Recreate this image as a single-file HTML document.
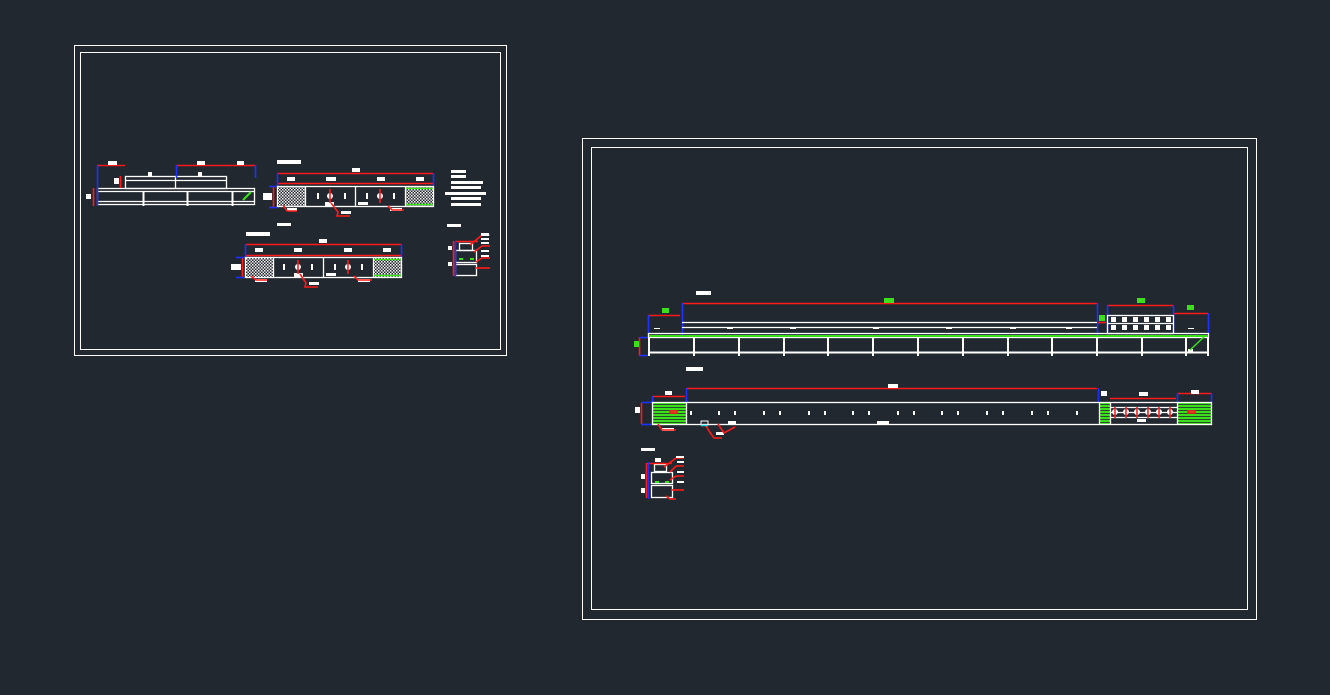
<!DOCTYPE html>
<html><head><meta charset="utf-8"><style>
html,body{margin:0;padding:0;background:#212830;width:1330px;height:695px;overflow:hidden}
svg{display:block}
.r{stroke:#ff1a1a;stroke-width:1.6}
.b{stroke:#2030ff;stroke-width:1.6}
</style></head><body>
<svg width="1330" height="695" viewBox="0 0 1330 695" xmlns="http://www.w3.org/2000/svg">
<defs>
<pattern id="hatch" width="3" height="3" patternUnits="userSpaceOnUse">
<rect width="3" height="3" fill="#212830"/><rect width="1.5" height="1.5" fill="#fff"/><rect x="1.5" y="1.5" width="1.5" height="1.5" fill="#ddd"/></pattern>
<pattern id="gstripe" width="4" height="3" patternUnits="userSpaceOnUse">
<rect width="4" height="3" fill="#3be01a"/><rect y="2.2" width="4" height="0.8" fill="#212830"/></pattern>
</defs>
<g fill="none" stroke="#fff" stroke-width="1">
<rect x="74.5" y="45.5" width="432" height="310"/>
<rect x="80.5" y="52.5" width="420" height="297"/>
<rect x="582.5" y="138.5" width="674" height="481"/>
<rect x="591.5" y="147.5" width="656" height="462"/>
</g>

<!-- LEFT: elevation -->
<g stroke="#fff" stroke-width="1.3" fill="none">
<rect x="97.5" y="188.5" width="157" height="16"/>
<line x1="97" y1="191.5" x2="255" y2="191.5"/>
<line x1="97" y1="201.5" x2="255" y2="201.5"/>
<rect x="125.5" y="176.5" width="101" height="12"/>
<line x1="125" y1="180.5" x2="227" y2="180.5"/>
<line x1="175.5" y1="176" x2="175.5" y2="188"/>
<line x1="143.5" y1="192" x2="143.5" y2="206" stroke-width="2"/>
<line x1="187.5" y1="192" x2="187.5" y2="206" stroke-width="2"/>
<line x1="232.5" y1="192" x2="232.5" y2="206" stroke-width="2"/>
</g>
<g class="r">
<line x1="97" y1="165.5" x2="125" y2="165.5"/>
<line x1="176" y1="165.5" x2="255" y2="165.5"/>
<line x1="93.5" y1="188" x2="93.5" y2="206"/>
<line x1="120.5" y1="176" x2="120.5" y2="188"/>
</g>
<g class="b"><line x1="97.5" y1="165" x2="97.5" y2="206"/><line x1="255.5" y1="165" x2="255.5" y2="178"/><line x1="176.5" y1="165" x2="176.5" y2="178"/></g>
<g fill="#fff"><rect x="108" y="161" width="9" height="4"/><rect x="197" y="161" width="8" height="4"/><rect x="237" y="161" width="7" height="4"/><rect x="86" y="194" width="5" height="5"/><rect x="114" y="178" width="5" height="6"/><rect x="148" y="172" width="4" height="5"/><rect x="198" y="172" width="4" height="5"/></g>
<line x1="243" y1="200" x2="251" y2="192" stroke="#3be01a" stroke-width="2"/>

<!-- LEFT: top plan -->
<rect x="277" y="160" width="24" height="4" fill="#fff"/>
<rect x="352" y="168" width="8" height="4" fill="#fff"/>
<g class="r"><line x1="277" y1="173.5" x2="433" y2="173.5"/><line x1="277" y1="183.5" x2="433" y2="183.5"/><line x1="273.5" y1="186" x2="273.5" y2="207"/></g>
<g class="b"><line x1="277.5" y1="173" x2="277.5" y2="186"/><line x1="433.5" y1="173" x2="433.5" y2="186"/><line x1="269" y1="186.5" x2="277" y2="186.5"/><line x1="269" y1="207.5" x2="277" y2="207.5"/></g>
<g fill="#fff"><rect x="287" y="177" width="8" height="4"/><rect x="326" y="177" width="10" height="4"/><rect x="377" y="177" width="8" height="4"/><rect x="416" y="177" width="8" height="4"/><rect x="263" y="193" width="9" height="7"/></g>
<rect x="277.5" y="186.5" width="28" height="20" fill="url(#hatch)"/>
<rect x="405.5" y="186.5" width="28" height="20" fill="url(#hatch)"/>
<g stroke="#3be01a" stroke-width="1.5"><line x1="405" y1="188.5" x2="433" y2="188.5"/><line x1="405" y1="204.5" x2="433" y2="204.5"/></g>
<g fill="none" stroke="#fff" stroke-width="1.3"><rect x="277.5" y="186.5" width="156" height="20"/><line x1="305.5" y1="186" x2="305.5" y2="207"/><line x1="355.5" y1="186" x2="355.5" y2="207"/><line x1="405.5" y1="186" x2="405.5" y2="207"/></g>
<g fill="#fff"><circle cx="330" cy="196" r="3"/><circle cx="380" cy="196" r="3"/><rect x="317" y="193" width="2" height="6"/><rect x="344" y="193" width="2" height="6"/><rect x="366" y="193" width="2" height="6"/><rect x="393" y="193" width="2" height="6"/><rect x="325" y="202" width="9" height="4"/><rect x="358" y="202" width="10" height="3"/><rect x="287" y="208" width="10" height="3"/><rect x="341" y="211" width="10" height="3"/><rect x="390" y="208" width="12" height="3"/></g>
<g class="r" fill="none"><line x1="330" y1="189" x2="330" y2="203"/><line x1="380" y1="189" x2="380" y2="203"/><polyline points="283,205 287,211 297,211"/><polyline points="331,203 338,212 337,216 350,216"/><polyline points="388,206 392,210 404,210"/></g>
<g fill="#fff"><rect x="451" y="170" width="15" height="3"/><rect x="451" y="175" width="15" height="3"/><rect x="451" y="181" width="32" height="3"/><rect x="451" y="186" width="30" height="3"/><rect x="445" y="192" width="41" height="3"/><rect x="451" y="197" width="30" height="3"/><rect x="451" y="203" width="30" height="3"/><rect x="277" y="223" width="14" height="3"/></g>

<!-- LEFT: lower plan -->
<rect x="246" y="232" width="24" height="4" fill="#fff"/>
<rect x="319" y="239" width="8" height="4" fill="#fff"/>
<g class="r"><line x1="246" y1="244.5" x2="402" y2="244.5"/><line x1="246" y1="255.5" x2="402" y2="255.5"/><line x1="242.5" y1="257" x2="242.5" y2="277"/></g>
<g class="b"><line x1="245.5" y1="244" x2="245.5" y2="257"/><line x1="401.5" y1="244" x2="401.5" y2="257"/><line x1="236" y1="257.5" x2="245" y2="257.5"/><line x1="236" y1="277.5" x2="245" y2="277.5"/></g>
<g fill="#fff"><rect x="255" y="248" width="8" height="4"/><rect x="294" y="248" width="8" height="4"/><rect x="344" y="248" width="8" height="4"/><rect x="383" y="248" width="8" height="4"/><rect x="231" y="264" width="10" height="6"/></g>
<rect x="245.5" y="257.5" width="28" height="20" fill="url(#hatch)"/>
<rect x="373.5" y="257.5" width="28" height="20" fill="url(#hatch)"/>
<g stroke="#3be01a" stroke-width="1.5"><line x1="373" y1="259.5" x2="402" y2="259.5"/><line x1="373" y1="275.5" x2="402" y2="275.5"/></g>
<g fill="none" stroke="#fff" stroke-width="1.3"><rect x="245.5" y="257.5" width="156" height="20"/><line x1="273.5" y1="257" x2="273.5" y2="278"/><line x1="323.5" y1="257" x2="323.5" y2="278"/><line x1="373.5" y1="257" x2="373.5" y2="278"/></g>
<g fill="#fff"><circle cx="298" cy="267" r="3"/><circle cx="348" cy="267" r="3"/><rect x="283" y="264" width="2" height="6"/><rect x="311" y="264" width="2" height="6"/><rect x="334" y="264" width="2" height="6"/><rect x="361" y="264" width="2" height="6"/><rect x="294" y="273" width="9" height="4"/><rect x="326" y="273" width="10" height="3"/><rect x="255" y="279" width="12" height="3"/><rect x="309" y="282" width="10" height="3"/><rect x="358" y="279" width="12" height="3"/></g>
<g class="r" fill="none"><line x1="298" y1="260" x2="298" y2="274"/><line x1="348" y1="260" x2="348" y2="274"/><polyline points="251,276 256,280 267,280"/><polyline points="300,274 306,283 305,287 318,287"/><polyline points="354,276 358,280 372,280"/></g>

<!-- LEFT: side view -->
<g stroke="#fff" fill="none" stroke-width="1.3"><rect x="455.5" y="250.5" width="21" height="12"/><rect x="455.5" y="264.5" width="21" height="11"/><rect x="459.5" y="243.5" width="13" height="7"/></g>
<rect x="447" y="224" width="14" height="3" fill="#fff"/>
<g class="r" fill="none"><line x1="453.5" y1="241" x2="453.5" y2="276"/><line x1="455" y1="241.5" x2="478" y2="241.5"/><polyline points="470,245 482,235 490,235"/><polyline points="474,252 482,246 490,246"/><polyline points="476,262 482,258 490,258"/><polyline points="475,268 490,268"/></g>
<g fill="#fff"><rect x="481" y="233" width="8" height="3"/><rect x="481" y="238" width="8" height="2"/><rect x="481" y="242" width="8" height="2"/><rect x="481" y="250" width="8" height="2"/><rect x="481" y="255" width="8" height="2"/><rect x="448" y="246" width="4" height="4"/><rect x="448" y="262" width="4" height="4"/></g>
<rect x="459" y="258" width="4" height="2" fill="#3be01a"/><rect x="470" y="258" width="4" height="2" fill="#3be01a"/>
<line x1="455.5" y1="241" x2="455.5" y2="277" class="b"/>

<!-- RIGHT: elevation -->
<rect x="696" y="291" width="15" height="4" fill="#fff"/>
<g class="r"><line x1="682" y1="303.5" x2="1097" y2="303.5"/><line x1="648" y1="315.5" x2="680" y2="315.5"/><line x1="1107" y1="305.5" x2="1173" y2="305.5"/><line x1="1174" y1="313.5" x2="1208" y2="313.5"/><line x1="1098" y1="322.5" x2="1106" y2="322.5"/><line x1="639.5" y1="337" x2="639.5" y2="356"/></g>
<g class="b"><line x1="682.5" y1="303" x2="682.5" y2="336"/><line x1="648.5" y1="315" x2="648.5" y2="336"/><line x1="1097.5" y1="303" x2="1097.5" y2="336"/><line x1="1107.5" y1="305" x2="1107.5" y2="333"/><line x1="1173.5" y1="305" x2="1173.5" y2="333"/><line x1="1208.5" y1="313" x2="1208.5" y2="336"/><line x1="639" y1="337.5" x2="648" y2="337.5"/><line x1="639" y1="355.5" x2="648" y2="355.5"/></g>
<g fill="#3be01a"><rect x="884" y="298" width="10" height="5"/><rect x="662" y="308" width="7" height="5"/><rect x="1137" y="298" width="8" height="5"/><rect x="1187" y="305" width="7" height="5"/><rect x="1099" y="315" width="6" height="6"/><rect x="634" y="341" width="5" height="6"/></g>
<g stroke="#fff" fill="none" stroke-width="1.3"><line x1="682" y1="322.5" x2="1097" y2="322.5"/><line x1="682" y1="327.5" x2="1097" y2="327.5"/><rect x="648.5" y="333.5" width="560" height="4"/><line x1="649" y1="352.5" x2="1208" y2="352.5" stroke-width="2"/><rect x="1107.5" y="315.5" width="66" height="18"/><line x1="1107" y1="323.5" x2="1174" y2="323.5"/></g>
<line x1="649" y1="336" x2="1208" y2="336" stroke="#3be01a" stroke-width="2"/>
<g fill="#fff">
<rect x="648" y="338" width="2" height="18"/><rect x="693" y="338" width="2" height="18"/><rect x="738" y="338" width="2" height="18"/><rect x="783" y="338" width="2" height="18"/><rect x="827" y="338" width="2" height="18"/><rect x="872" y="338" width="2" height="18"/><rect x="917" y="338" width="2" height="18"/><rect x="962" y="338" width="2" height="18"/><rect x="1007" y="338" width="2" height="18"/><rect x="1051" y="338" width="2" height="18"/><rect x="1096" y="338" width="2" height="18"/><rect x="1141" y="338" width="2" height="18"/><rect x="1185" y="338" width="2" height="18"/><rect x="1207" y="338" width="2" height="18"/>
<rect x="1111" y="317" width="5" height="5"/><rect x="1122" y="317" width="5" height="5"/><rect x="1133" y="317" width="5" height="5"/><rect x="1144" y="317" width="5" height="5"/><rect x="1155" y="317" width="5" height="5"/><rect x="1166" y="317" width="5" height="5"/>
<rect x="1111" y="325" width="5" height="5"/><rect x="1122" y="325" width="5" height="5"/><rect x="1133" y="325" width="5" height="5"/><rect x="1144" y="325" width="5" height="5"/><rect x="1155" y="325" width="5" height="5"/><rect x="1166" y="325" width="5" height="5"/>
<rect x="654" y="328" width="6" height="1"/><rect x="727" y="328" width="6" height="1"/><rect x="790" y="328" width="6" height="1"/><rect x="873" y="328" width="6" height="1"/><rect x="946" y="328" width="6" height="1"/><rect x="1010" y="328" width="6" height="1"/><rect x="1066" y="328" width="6" height="1"/><rect x="1188" y="328" width="6" height="1"/>
<rect x="1188" y="349" width="5" height="3"/>
</g>
<line x1="1190" y1="350" x2="1205" y2="336" stroke="#3be01a" stroke-width="1.5"/>

<!-- RIGHT: plan -->
<rect x="686" y="367" width="17" height="4" fill="#fff"/>
<g class="r"><line x1="686" y1="388.5" x2="1097" y2="388.5"/><line x1="652" y1="396.5" x2="685" y2="396.5"/><line x1="1100" y1="410.5" x2="1110" y2="410.5"/><line x1="1110" y1="398.5" x2="1176" y2="398.5"/><line x1="1178" y1="393.5" x2="1211" y2="393.5"/><line x1="641.5" y1="403" x2="641.5" y2="424"/></g>
<g class="b"><line x1="686.5" y1="388" x2="686.5" y2="402"/><line x1="652.5" y1="396" x2="652.5" y2="402"/><line x1="1098.5" y1="388" x2="1098.5" y2="402"/><line x1="1177.5" y1="393" x2="1177.5" y2="402"/><line x1="1211.5" y1="393" x2="1211.5" y2="402"/><line x1="641" y1="402.5" x2="652" y2="402.5"/><line x1="641" y1="424.5" x2="652" y2="424.5"/></g>
<g fill="#fff"><rect x="888" y="384" width="10" height="4"/><rect x="665" y="391" width="7" height="4"/><rect x="1101" y="391" width="6" height="5"/><rect x="1139" y="392" width="9" height="4"/><rect x="1191" y="390" width="8" height="4"/><rect x="635" y="407" width="5" height="6"/></g>
<rect x="652.5" y="402.5" width="34" height="22" fill="url(#gstripe)"/>
<rect x="1099.5" y="402.5" width="11" height="22" fill="url(#gstripe)"/>
<rect x="1177.5" y="402.5" width="34" height="22" fill="url(#gstripe)"/>
<g stroke="#fff" fill="none" stroke-width="1.3"><rect x="652.5" y="402.5" width="559" height="22"/><line x1="686.5" y1="402" x2="686.5" y2="425"/><line x1="1099.5" y1="402" x2="1099.5" y2="425"/><line x1="1110.5" y1="402" x2="1110.5" y2="425"/><line x1="1177.5" y1="402" x2="1177.5" y2="425"/><line x1="1110" y1="407.5" x2="1177" y2="407.5"/><line x1="1110" y1="417.5" x2="1177" y2="417.5"/><line x1="1110" y1="412.5" x2="1177" y2="412.5"/></g>
<g fill="#fff">
<rect x="690" y="411" width="2" height="4"/><rect x="718" y="411" width="2" height="4"/><rect x="734" y="411" width="2" height="4"/><rect x="763" y="411" width="2" height="4"/><rect x="779" y="411" width="2" height="4"/><rect x="808" y="411" width="2" height="4"/><rect x="824" y="411" width="2" height="4"/><rect x="852" y="411" width="2" height="4"/><rect x="868" y="411" width="2" height="4"/><rect x="897" y="411" width="2" height="4"/><rect x="913" y="411" width="2" height="4"/><rect x="941" y="411" width="2" height="4"/><rect x="957" y="411" width="2" height="4"/><rect x="986" y="411" width="2" height="4"/><rect x="1002" y="411" width="2" height="4"/><rect x="1031" y="411" width="2" height="4"/><rect x="1047" y="411" width="2" height="4"/><rect x="1076" y="411" width="2" height="4"/>
<rect x="877" y="421" width="12" height="3"/><rect x="1137" y="419" width="9" height="3"/><rect x="662" y="428" width="12" height="3"/><rect x="728" y="421" width="8" height="3"/><rect x="716" y="432" width="8" height="3"/>
<circle cx="1115" cy="412" r="3"/><circle cx="1126" cy="412" r="3"/><circle cx="1137" cy="412" r="3"/><circle cx="1148" cy="412" r="3"/><circle cx="1159" cy="412" r="3"/><circle cx="1170" cy="412" r="3"/>
</g>
<g class="r" fill="none"><line x1="1115" y1="407" x2="1115" y2="418"/><line x1="1126" y1="407" x2="1126" y2="418"/><line x1="1137" y1="407" x2="1137" y2="418"/><line x1="1148" y1="407" x2="1148" y2="418"/><line x1="1159" y1="407" x2="1159" y2="418"/><line x1="1170" y1="407" x2="1170" y2="418"/><rect x="670" y="411" width="7" height="2"/><rect x="1188" y="411" width="7" height="2"/><polyline points="658,424 662,430 676,430"/><polyline points="718,424 724,433 735,427"/><polyline points="706,426 711,434 714,438 722,438"/></g>
<rect x="701" y="421" width="7" height="4" fill="none" stroke="#fff"/>
<line x1="701" y1="425.5" x2="708" y2="425.5" stroke="#20d0e0" stroke-width="1.5"/>

<!-- RIGHT: small side view -->
<rect x="641" y="448" width="14" height="3" fill="#fff"/>
<g stroke="#fff" fill="none" stroke-width="1.3"><rect x="651.5" y="472.5" width="21" height="11"/><rect x="651.5" y="485.5" width="21" height="12"/><rect x="654.5" y="464.5" width="12" height="7"/></g>
<g class="r" fill="none"><line x1="646.5" y1="463" x2="646.5" y2="498"/><line x1="647" y1="463.5" x2="672" y2="463.5"/><polyline points="664,467 676,458 684,458"/><polyline points="670,472 676,466 684,466"/><polyline points="670,480 676,476 684,476"/><polyline points="671,490 684,490"/><polyline points="666,496 670,499 676,499"/></g>
<g fill="#fff"><rect x="676" y="456" width="8" height="2"/><rect x="677" y="461" width="7" height="2"/><rect x="677" y="471" width="7" height="2"/><rect x="677" y="481" width="7" height="2"/><rect x="641" y="474" width="4" height="5"/><rect x="641" y="488" width="4" height="5"/><rect x="655" y="458" width="6" height="4"/></g>
<rect x="655" y="481" width="4" height="2" fill="#3be01a"/><rect x="665" y="481" width="4" height="2" fill="#3be01a"/>
<line x1="648.5" y1="462" x2="648.5" y2="499" class="b"/>
</svg>
</body></html>
